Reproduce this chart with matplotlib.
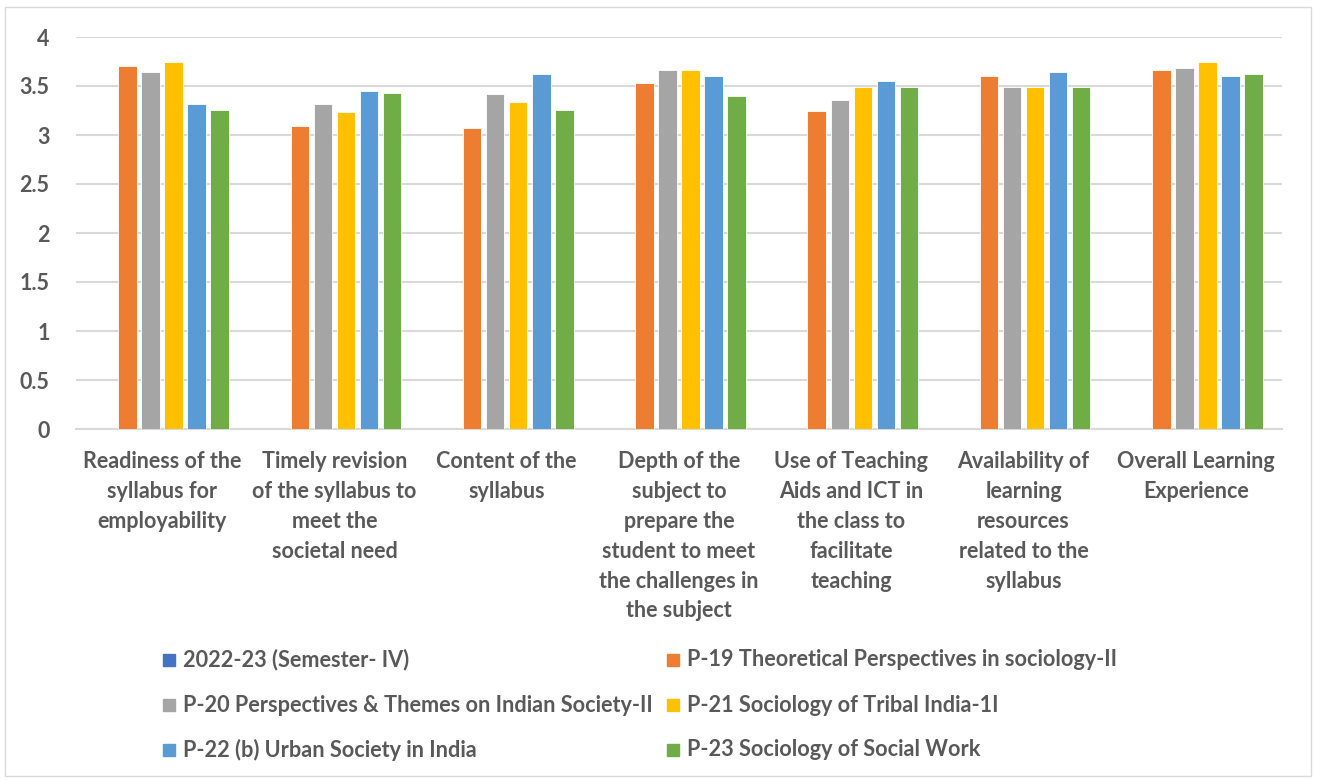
import matplotlib
matplotlib.use("Agg")
import matplotlib.pyplot as plt
import numpy as np
from matplotlib.patches import Rectangle
from matplotlib import font_manager as fm

categories = [
    "Readiness of the\nsyllabus for\nemployability",
    "Timely revision\nof the syllabus to\nmeet the\nsocietal need",
    "Content of the\nsyllabus",
    "Depth of the\nsubject to\nprepare the\nstudent to meet\nthe challenges in\nthe subject",
    "Use of Teaching\nAids and ICT in\nthe class to\nfacilitate\nteaching",
    "Availability of\nlearning\nresources\nrelated to the\nsyllabus",
    "Overall Learning\nExperience",
]

series_names = [
    "2022-23 (Semester- IV)",
    "P-19 Theoretical Perspectives in sociology-II",
    "P-20 Perspectives & Themes on Indian Society-II",
    "P-21 Sociology of Tribal India-1I",
    "P-22 (b) Urban Society in India",
    "P-23 Sociology of Social Work",
]

sem_iv = [0, 0, 0, 0, 0, 0, 0]
p19 = [3.70, 3.09, 3.07, 3.53, 3.24, 3.60, 3.66]
p20 = [3.64, 3.32, 3.42, 3.66, 3.36, 3.49, 3.68]
p21 = [3.74, 3.23, 3.34, 3.66, 3.49, 3.49, 3.74]
p22 = [3.32, 3.45, 3.62, 3.60, 3.55, 3.64, 3.60]
p23 = [3.26, 3.43, 3.26, 3.40, 3.49, 3.49, 3.62]

yticks = [0, 0.5, 1, 1.5, 2, 2.5, 3, 3.5, 4]
ytick_labels = ["0", "0.5", "1", "1.5", "2", "2.5", "3", "3.5", "4"]

colors = ["#4472C4", "#ED7D31", "#A5A5A5", "#FFC000", "#5B9BD5", "#70AD47"]
text_color = "#595959"
W, H = 1317, 780

fp_tick = fm.FontProperties(family=['Lato', 'DejaVu Sans'], weight=700, size=15.5)
fp_leg = fm.FontProperties(family=['Lato', 'DejaVu Sans'], weight=700, size=15.6)

fig = plt.figure(figsize=(W/100, H/100), dpi=100)
ax = fig.add_axes([76/W, 1-429/H, (1282-76)/W, (429-37)/H])

data = [sem_iv, p19, p20, p21, p22, p23]
x = np.arange(len(categories))
pitch = 23/172
bw = 18.5/172
for j, (vals, name, c) in enumerate(zip(data, series_names, colors)):
    lw = 0.6 if j > 0 else 0
    ax.bar(x + (j-2.5)*pitch, vals, bw, color=c, edgecolor="white",
           linewidth=lw, label=name, zorder=3)

ax.set_xlim(-0.5, len(categories)-0.5)
ax.set_ylim(0, 4)
ax.set_yticks(yticks)
ax.set_yticklabels(ytick_labels, fontproperties=fp_tick, color=text_color)
ax.set_xticks(x)
ax.set_xticklabels(categories, fontproperties=fp_tick, color=text_color,
                   linespacing=1.52)
ax.tick_params(axis='x', length=0, pad=16)
ax.tick_params(axis='y', length=0, pad=19)

ax.grid(axis='y', color="#D9D9D9", linewidth=1.5, zorder=0)
for s in ['top', 'right', 'left']:
    ax.spines[s].set_visible(False)
ax.spines['bottom'].set_color("#D9D9D9")
ax.spines['bottom'].set_linewidth(1.5)

# legend (2 columns x 3 rows, row-major order as in the reference)
col_x = [163, 667]
row_y = [660, 705, 750]
sq = 12
for k, (name, c) in enumerate(zip(series_names, colors)):
    r, cc = divmod(k, 2)
    px, py = col_x[cc], row_y[r]
    fig.patches.append(Rectangle((px/W, 1-(py+sq/2)/H), sq/W, sq/H,
                                 transform=fig.transFigure, color=c))
    fig.text((px+20)/W, 1-py/H, name, fontproperties=fp_leg,
             color=text_color, ha='left', va='center')

fig.patches.append(Rectangle((5/W, 1-776/H), 1306/W, 769/H, transform=fig.transFigure,
                             fill=False, edgecolor="#D9D9D9", linewidth=1))

fig.savefig("out.png", dpi=100)
